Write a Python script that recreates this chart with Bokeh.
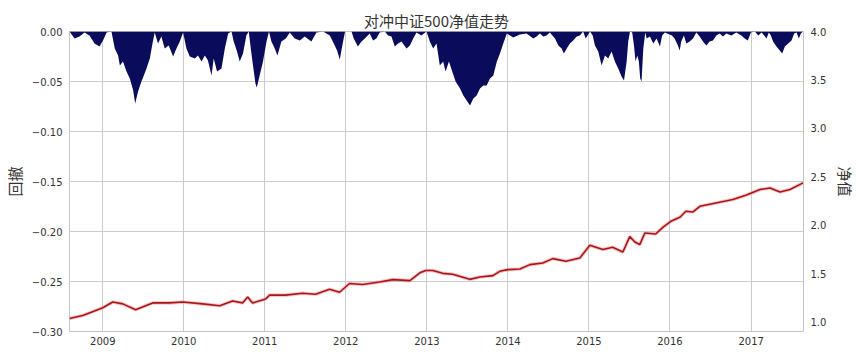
import pandas as pd
from bokeh.plotting import figure
from bokeh.models import (ColumnDataSource, Range1d, LinearAxis, FixedTicker,
                          CustomJSTickFormatter, DatetimeTickFormatter)
from bokeh.embed import file_html
from bokeh.resources import INLINE

# ---------------- data ----------------
dd_dates = [
    "2008-08-04", "2008-08-27", "2008-09-18", "2008-10-11", "2008-11-02", "2008-11-25", "2008-12-17",
    "2009-01-02", "2009-01-18", "2009-02-09", "2009-02-24", "2009-03-11", "2009-03-19", "2009-04-02",
    "2009-04-18", "2009-05-03", "2009-05-18", "2009-05-27", "2009-06-09", "2009-06-24", "2009-07-05",
    "2009-07-17", "2009-08-01", "2009-08-13", "2009-08-23", "2009-09-07", "2009-09-22", "2009-10-07",
    "2009-10-25", "2009-11-14", "2009-11-29", "2009-12-14", "2009-12-29",
    "2010-01-13", "2010-01-28", "2010-02-20", "2010-03-06", "2010-03-22", "2010-04-06", "2010-04-20",
    "2010-05-06", "2010-05-16", "2010-05-31", "2010-06-20", "2010-07-05", "2010-07-20", "2010-08-04",
    "2010-08-14", "2010-08-29", "2010-09-10", "2010-09-25", "2010-10-10", "2010-10-21", "2010-10-30",
    "2010-11-09", "2010-11-20", "2010-11-26", "2010-12-09", "2010-12-24",
    "2011-01-09", "2011-01-20", "2011-01-31", "2011-02-15", "2011-02-27", "2011-03-17", "2011-04-06",
    "2011-04-24", "2011-05-16", "2011-06-08", "2011-06-30", "2011-07-30", "2011-08-22", "2011-09-21",
    "2011-10-21", "2011-11-08", "2011-11-23", "2011-12-05", "2011-12-20", "2011-12-29",
    "2012-01-27", "2012-02-06", "2012-02-25", "2012-03-12", "2012-03-27", "2012-04-18", "2012-05-03",
    "2012-05-18", "2012-06-02", "2012-06-25", "2012-07-10", "2012-07-25", "2012-08-09", "2012-08-24",
    "2012-09-08", "2012-10-01", "2012-10-16", "2012-10-31", "2012-11-15", "2012-12-07", "2012-12-30",
    "2013-01-14", "2013-01-29", "2013-02-13", "2013-02-28", "2013-03-15", "2013-03-26", "2013-04-10",
    "2013-04-25", "2013-05-10", "2013-05-30", "2013-06-14", "2013-06-29", "2013-07-14", "2013-07-29",
    "2013-08-13", "2013-08-28", "2013-09-12", "2013-09-27", "2013-10-12", "2013-10-27", "2013-11-12",
    "2013-11-26", "2013-12-11", "2013-12-27",
    "2014-01-25", "2014-02-24", "2014-03-26", "2014-04-25", "2014-05-10", "2014-05-25", "2014-06-09",
    "2014-06-24", "2014-07-09", "2014-08-01", "2014-08-16", "2014-08-31", "2014-09-10", "2014-09-23",
    "2014-10-07", "2014-10-22", "2014-11-07", "2014-11-21", "2014-12-06", "2014-12-17", "2014-12-26",
    "2015-01-06", "2015-01-18", "2015-01-28", "2015-02-12", "2015-02-27", "2015-03-14", "2015-03-29",
    "2015-04-13", "2015-04-28", "2015-05-13", "2015-05-28", "2015-06-08", "2015-06-20", "2015-06-27",
    "2015-07-05", "2015-07-15", "2015-07-23", "2015-07-30", "2015-08-07", "2015-08-14", "2015-08-20",
    "2015-08-26", "2015-09-03", "2015-09-12", "2015-09-18", "2015-10-03", "2015-10-18", "2015-11-02",
    "2015-11-17", "2015-11-27", "2015-12-09", "2015-12-31",
    "2016-01-10", "2016-01-22", "2016-02-06", "2016-02-14", "2016-02-21", "2016-03-04", "2016-03-15",
    "2016-03-30", "2016-04-14", "2016-04-29", "2016-05-14", "2016-05-29", "2016-06-13", "2016-06-28",
    "2016-07-13", "2016-07-28", "2016-08-12", "2016-08-27", "2016-09-11", "2016-10-04", "2016-10-26",
    "2016-11-18", "2016-12-03", "2016-12-17", "2016-12-31",
    "2017-01-18", "2017-02-02", "2017-02-17", "2017-03-01", "2017-03-11", "2017-03-22", "2017-03-31",
    "2017-04-10", "2017-04-25", "2017-05-10", "2017-05-21", "2017-06-02", "2017-06-17", "2017-07-02",
    "2017-07-14", "2017-07-25", "2017-08-04", "2017-08-13", "2017-08-23",
]
dd_values = [
    0.0, -0.007, -0.005, -0.001, -0.004, -0.012, -0.015,
    -0.009, -0.001, 0.0, -0.017, -0.024, -0.034, -0.030,
    -0.040, -0.047, -0.059, -0.072, -0.060, -0.050, -0.044,
    -0.037, -0.027, -0.012, -0.001, -0.012, -0.005, -0.017,
    -0.014, -0.025, -0.017, -0.010, -0.001,
    -0.017, -0.025, -0.027, -0.024, -0.030, -0.024, -0.029,
    -0.044, -0.027, -0.040, -0.037, -0.017, -0.002, 0.0,
    -0.010, -0.020, -0.030, -0.022, -0.004, 0.0, -0.017,
    -0.034, -0.052, -0.056, -0.044, -0.030,
    -0.010, 0.0, -0.010, -0.017, -0.024, -0.010, -0.007,
    -0.001, -0.007, -0.009, -0.005, -0.010, -0.001, 0.0,
    -0.004, -0.012, -0.019, -0.028, -0.010, 0.0,
    0.0, -0.007, -0.015, -0.010, -0.007, -0.002, -0.009,
    -0.007, -0.001, 0.0, -0.004, -0.005, -0.015, -0.012,
    -0.010, -0.017, -0.014, -0.007, -0.001, -0.004, 0.0,
    -0.010, -0.017, -0.012, -0.034, -0.030, -0.040, -0.030,
    -0.040, -0.050, -0.057, -0.064, -0.069, -0.074, -0.067,
    -0.064, -0.057, -0.054, -0.054, -0.047, -0.044, -0.030,
    -0.022, -0.012, -0.002,
    -0.006, -0.003, -0.002, -0.007, -0.005, -0.002, -0.005,
    -0.004, -0.001, -0.007, -0.014, -0.017, -0.022, -0.017,
    -0.012, -0.009, -0.005, -0.004, 0.0, -0.007, -0.004,
    0.0, -0.004, -0.014, -0.020, -0.034, -0.024, -0.027,
    -0.020, -0.030, -0.037, -0.045, -0.049, -0.030, -0.010,
    0.0, -0.001, -0.014, -0.030, -0.024, -0.030, -0.047,
    -0.050, -0.017, -0.001, -0.007, -0.005, -0.012, -0.007,
    -0.015, -0.004, -0.001, -0.003,
    -0.004, -0.007, -0.014, -0.019, -0.010, -0.004, -0.012,
    -0.010, -0.007, -0.001, -0.005, -0.010, -0.014, -0.010,
    -0.009, -0.004, -0.002, -0.005, -0.002, -0.004, -0.001,
    -0.004, -0.007, -0.009, -0.001,
    0.0, -0.004, -0.001, -0.004, -0.007, -0.001, -0.004,
    -0.010, -0.015, -0.019, -0.022, -0.015, -0.012, -0.009,
    -0.002, -0.001, -0.007, -0.002, 0.0,
]

nav_dates = [
    "2008-08-04", "2008-10-02", "2008-11-16", "2009-01-01", "2009-02-15", "2009-04-01", "2009-05-29",
    "2009-08-14", "2009-10-29", "2009-12-27", "2010-03-27", "2010-06-12", "2010-08-09", "2010-09-23",
    "2010-10-16", "2010-11-07", "2011-01-05", "2011-01-23", "2011-04-05", "2011-06-20", "2011-08-18",
    "2011-10-20", "2011-12-04", "2012-01-18", "2012-03-16", "2012-06-02", "2012-07-31", "2012-10-16",
    "2012-11-30", "2012-12-27", "2013-01-27", "2013-03-13", "2013-04-27", "2013-07-13", "2013-08-27",
    "2013-10-25", "2013-11-25", "2014-01-01", "2014-02-24", "2014-04-10", "2014-06-07", "2014-07-22",
    "2014-09-19", "2014-11-21", "2015-01-05", "2015-03-05", "2015-04-18", "2015-06-03", "2015-07-04",
    "2015-07-27", "2015-08-18", "2015-09-10", "2015-10-29", "2015-11-30", "2016-01-05", "2016-02-15",
    "2016-03-13", "2016-04-14", "2016-05-15", "2016-07-26", "2016-10-11", "2016-12-08", "2017-02-10",
    "2017-03-27", "2017-05-11", "2017-06-25", "2017-08-23",
]
nav_values = [
    1.04, 1.07, 1.11, 1.15, 1.21, 1.19, 1.13,
    1.20, 1.20, 1.21, 1.19, 1.17, 1.22, 1.20,
    1.26, 1.20, 1.24, 1.28, 1.28, 1.30, 1.29,
    1.34, 1.31, 1.40, 1.39, 1.415, 1.44, 1.43,
    1.51, 1.535, 1.535, 1.505, 1.495, 1.443, 1.467,
    1.481, 1.526, 1.543, 1.55, 1.595, 1.612, 1.657,
    1.629, 1.663, 1.794, 1.75, 1.774, 1.725, 1.884,
    1.829, 1.802, 1.921, 1.911, 1.98, 2.042, 2.084,
    2.146, 2.138, 2.197, 2.231, 2.267, 2.311, 2.37,
    2.386, 2.345, 2.37, 2.438,
]

year_ticks = ["2009-01-01", "2010-01-01", "2011-01-01", "2012-01-01", "2013-01-01",
              "2014-01-01", "2015-01-01", "2016-01-01", "2017-01-01"]
left_ticks = [-0.30, -0.25, -0.20, -0.15, -0.10, -0.05, 0.0]
right_ticks = [1.0, 1.5, 2.0, 2.5, 3.0, 3.5, 4.0]

title_text = "对冲中证500净值走势"
left_label = "回撤"
right_label = "净值"

# ---------------- figure ----------------
CJK = "Noto Sans CJK SC"
TICKFONT = "DejaVu Sans"
TXT = "#333333"
GRID = "#cccccc"

dd_src = ColumnDataSource(dict(date=pd.to_datetime(dd_dates), dd=dd_values,
                               zero=[0.0] * len(dd_values)))
nav_src = ColumnDataSource(dict(date=pd.to_datetime(nav_dates), nav=nav_values))

p = figure(frame_width=734, frame_height=300, x_axis_type="datetime",
           output_backend="svg", toolbar_location=None,
           x_range=Range1d(pd.Timestamp("2008-08-04"), pd.Timestamp("2017-08-25")),
           y_range=Range1d(-0.30, 0.0),
           min_border_left=58, min_border_right=49,
           min_border_top=31, min_border_bottom=21)
p.extra_y_ranges = {"nav": Range1d(0.905, 4.0)}
p.background_fill_color = "white"
p.border_fill_color = "white"
p.outline_line_color = "#c4c4c4"
p.outline_line_width = 1

p.title.text = title_text
p.title.align = "center"
p.title.text_font = CJK
p.title.text_font_size = "15px"
p.title.text_font_style = "normal"
p.title.text_color = TXT
p.title.standoff = 2

# drawdown area
p.varea(x="date", y1="zero", y2="dd", source=dd_src, fill_color="#0b0b5c", fill_alpha=1.0)

# nav line (halo + core)
p.line(x="date", y="nav", source=nav_src, y_range_name="nav",
       line_color="#ec9090", line_width=3.6, line_alpha=0.5)
p.line(x="date", y="nav", source=nav_src, y_range_name="nav",
       line_color="#a8141a", line_width=1.6)

# axes
xa = p.xaxis[0]
xa.ticker = FixedTicker(ticks=[pd.Timestamp(t).value // 10**6 for t in year_ticks])
xa.formatter = DatetimeTickFormatter(years="%Y", months="%Y", days="%Y", hours="%Y",
                                     minutes="%Y", seconds="%Y", milliseconds="%Y",
                                     microseconds="%Y")

ya = p.yaxis[0]
ya.ticker = FixedTicker(ticks=left_ticks)
ya.formatter = CustomJSTickFormatter(code="""
    const v = Math.round(tick * 100) / 100;
    return (v < 0 ? "\u2212" : "") + Math.abs(v).toFixed(2);
""")
ya.axis_label = left_label

ra = LinearAxis(y_range_name="nav", ticker=FixedTicker(ticks=right_ticks),
                formatter=CustomJSTickFormatter(code="return tick.toFixed(1);"),
                axis_label=right_label)
p.add_layout(ra, "right")

for ax in (xa, ya, ra):
    ax.axis_line_color = None
    ax.major_tick_line_color = None
    ax.minor_tick_line_color = None
    ax.major_tick_out = 0
    ax.major_tick_in = 0
    ax.major_label_text_font = TICKFONT
    ax.major_label_text_font_size = "10px"
    ax.major_label_text_color = TXT
    ax.axis_label_text_font = CJK
    ax.axis_label_text_font_size = "15px"
    ax.axis_label_text_font_style = "normal"
    ax.axis_label_text_color = TXT
    ax.axis_label_text_line_height = 1.0

xa.major_label_standoff = 5
ya.major_label_standoff = 7
ya.axis_label_standoff = 4
ra.major_label_standoff = 7
ra.axis_label_standoff = 6

p.xgrid.grid_line_color = GRID
p.ygrid.grid_line_color = GRID
p.xgrid.grid_line_width = 1
p.ygrid.grid_line_width = 1

open("out.html", "w").write(file_html(p, INLINE))
